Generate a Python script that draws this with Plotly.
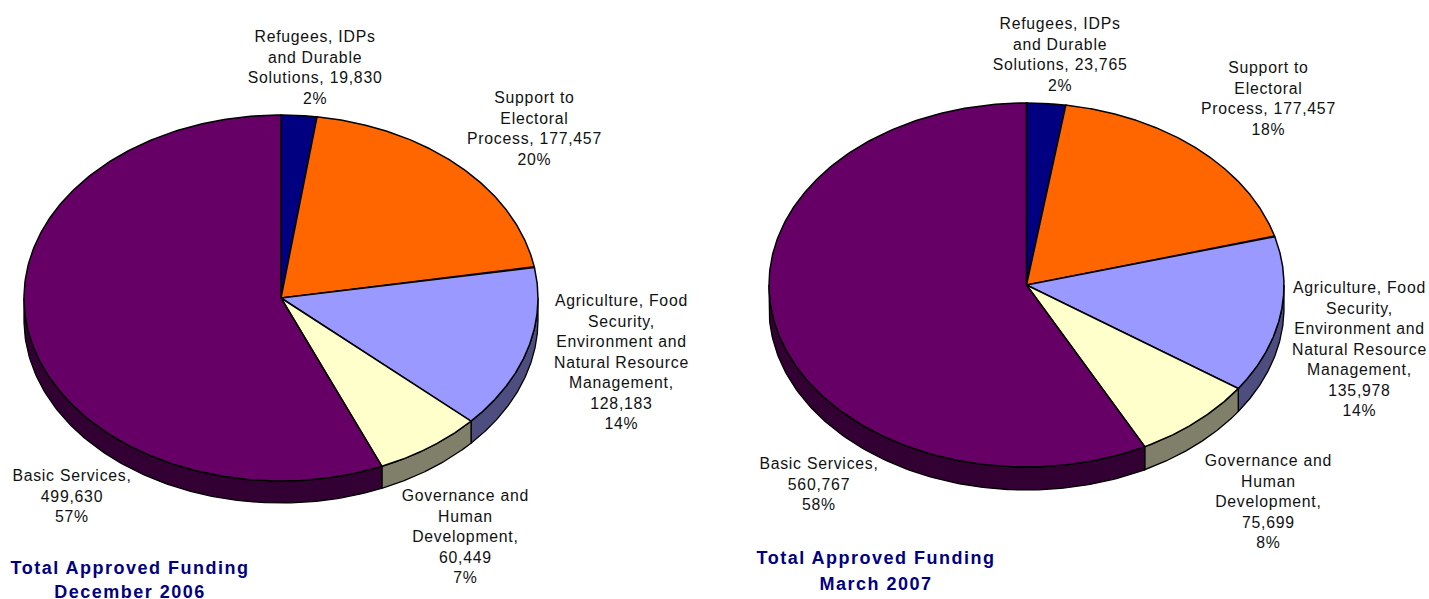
import numpy as np
import plotly.graph_objects as go

# ---- data ----
categories = ["Refugees, IDPs", "Support to Electoral Process", "Agriculture", "Governance", "Basic Services"]
values_dec_2006 = [19830, 177457, 128183, 60449, 499630]
values_mar_2007 = [23765, 177457, 135978, 75699, 560767]
percent_dec_2006 = ["2%", "20%", "14%", "7%", "57%"]
percent_mar_2007 = ["2%", "18%", "14%", "8%", "58%"]
label_lines = [
    ["Refugees, IDPs", "and Durable", "Solutions,"],
    ["Support to", "Electoral", "Process,"],
    ["Agriculture, Food", "Security,", "Environment and", "Natural Resource", "Management,"],
    ["Governance and", "Human", "Development,"],
    ["Basic Services,"],
]
title_common = "Total Approved Funding"
title_dec = "December 2006"
title_mar = "March 2007"

# ---- style ----
top_colors = ["#000080", "#FF6600", "#9999FF", "#FFFFCC", "#660066"]
side_colors = ["#000040", "#803300", "#4D4D80", "#80806A", "#330033"]
W, H = 1429, 599
FONT = "Liberation Sans"


def draw_pie(fig, values, cx, cy, rx, ry, depth):
    vals = np.array(values, float)
    edges = np.concatenate([[0], np.cumsum(vals) / vals.sum() * 2 * np.pi])
    # side walls (only the front half of the rim is visible)
    for i in range(len(vals)):
        a0, a1 = max(edges[i], np.pi / 2), min(edges[i + 1], 3 * np.pi / 2)
        if a1 <= a0:
            continue
        t = np.linspace(a0, a1, 120)
        x = cx + rx * np.sin(t)
        y = cy - ry * np.cos(t)
        fig.add_trace(go.Scatter(
            x=np.concatenate([x, x[::-1], x[:1]]),
            y=np.concatenate([y, y[::-1] + depth, y[:1]]),
            mode="lines", fill="toself", fillcolor=side_colors[i],
            line=dict(color="black", width=1.3), hoverinfo="skip", showlegend=False))
    # top faces
    for i in range(len(vals)):
        t = np.linspace(edges[i], edges[i + 1], 240)
        x = np.concatenate([[cx], cx + rx * np.sin(t), [cx]])
        y = np.concatenate([[cy], cy - ry * np.cos(t), [cy]])
        fig.add_trace(go.Scatter(
            x=x, y=y, mode="lines", fill="toself", fillcolor=top_colors[i],
            line=dict(color="black", width=1.5), name=categories[i],
            text=[f"{values[i]:,}"] * len(x), hoverinfo="name+text", showlegend=False))


def add_labels(annots, values, percents, positions):
    for idx, (lines, v, p, (x, y)) in enumerate(zip(label_lines, values, percents, positions)):
        if idx in (0, 1):
            txt = lines[:-1] + [f"{lines[-1]} {v:,}", p]
        else:
            txt = lines + [f"{v:,}", p]
        annots.append(dict(x=x, y=y, xref="x", yref="y", text="<br>".join(txt), showarrow=False,
                           xanchor="center", yanchor="middle", align="center",
                           font=dict(family=FONT, size=15.8, color="#111111")))


fig = go.Figure()
draw_pie(fig, values_dec_2006, 281, 298, 257, 183, 22)
draw_pie(fig, values_mar_2007, 1026.5, 285, 257.5, 182, 23)

annots = []
add_labels(annots, values_dec_2006, percent_dec_2006,
           [(315, 67), (534, 128), (621, 362), (465, 536), (72, 496)])
add_labels(annots, values_mar_2007, percent_mar_2007,
           [(1060, 54), (1268, 98), (1359, 349), (1268, 501), (819, 484)])
for x, y, t in [(130, 568, title_common), (130, 592, title_dec),
                (876, 558, title_common), (876, 584, title_mar)]:
    annots.append(dict(x=x, y=y, xref="x", yref="y", text=f"<b>{t}</b>", showarrow=False,
                       xanchor="center", yanchor="middle",
                       font=dict(family=FONT, size=18, color="#000080")))

fig.update_layout(
    width=W, height=H, margin=dict(l=0, r=0, t=0, b=0),
    paper_bgcolor="white", plot_bgcolor="white", annotations=annots,
    xaxis=dict(range=[0, W], visible=False, fixedrange=True),
    yaxis=dict(range=[H, 0], visible=False, fixedrange=True),
)
post = """
document.body.style.margin='0';
document.body.style.overflow='hidden';
document.querySelectorAll('.annotation-text').forEach(function(el){
  var bold = parseFloat(el.style.fontSize) >= 17;
  el.style.letterSpacing = bold ? '1.5px' : '0.75px';
});
"""
fig.write_html("out.html", config=dict(displayModeBar=False), post_script=post)
